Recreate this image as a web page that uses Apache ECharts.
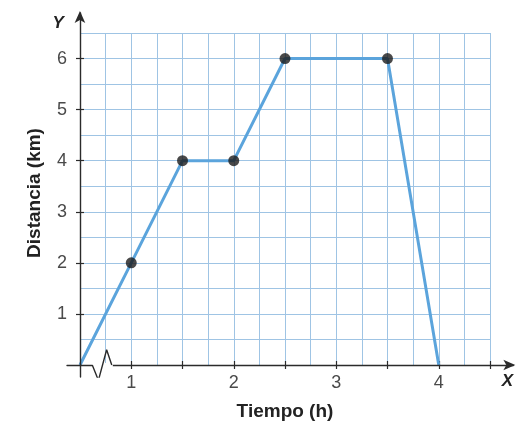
<!DOCTYPE html>
<html>
<head>
<meta charset="utf-8">
<script src="https://cdn.jsdelivr.net/npm/echarts@6/dist/echarts.min.js"></script>
<style>
  html, body { margin: 0; padding: 0; background: #fff; }
  #chart { width: 516px; height: 427px; }
</style>
</head>
<body>
<div id="chart"></div>
<script>
// Trayecto: tiempo (h) frente a distancia (km)
const tiempo    = [0.5, 1, 1.5, 2, 2.5, 3.5, 4];
const distancia = [0,   2, 4,   4, 6,   6,   0];
// puntos marcados con un círculo negro
const marcados  = [[1, 2], [1.5, 4], [2, 4], [2.5, 6], [3.5, 6]];

const xLabels = [1, 2, 3, 4];
const xTicks  = [1, 1.5, 2, 2.5, 3, 3.5, 4, 4.5];
const yLabels = [1, 2, 3, 4, 5, 6];

// símbolo de corte del eje X cerca del origen (en horas y km)
const corteBlanco = [[0.62, 0], [0.82, 0]];
const corte = [[0.62, 0], [0.68, -0.3], [0.76, 0.3], [0.81, 0]];

const AXIS = '#2b2b2b';
const GRID = '#9fc4e4';
const LINE = '#5ba4dc';
const LABEL = '#4a4a4a';
const FONT = '"Liberation Sans", Arial, sans-serif';

const serie = tiempo.map((t, i) => [t, distancia[i]]);

// ejes con flecha: rejilla auxiliar algo mayor, misma escala (103 px/h, 51 px/km)
const pxX = 103, pxY = 51;
const ax = { minX: 0.5 - 13 / pxX, maxX: 0.5 + 435 / pxX, minY: -12 / pxY, maxY: 352 / pxY };

const tickStyle = { color: AXIS, width: 1.2 };
const hidden = { axisLine: { show: false }, axisLabel: { show: false }, splitLine: { show: false } };

const chart = echarts.init(document.getElementById('chart'), null, { renderer: 'canvas' });
chart.setOption({
  animation: false,
  backgroundColor: '#fff',
  grid: [
    { left: 80, right: 26, top: 33, bottom: 62 },
    { left: 67, right: 1, top: 13, bottom: 50 }
  ],
  xAxis: [
    {
      gridIndex: 0, type: 'value', min: 0.5, max: 4.5, interval: 0.25,
      axisLine: { show: false },
      axisTick: { show: true, customValues: xTicks, length: 4, lineStyle: tickStyle },
      axisLabel: { customValues: xLabels, color: LABEL, fontSize: 18, fontFamily: FONT, margin: 9 },
      splitLine: { show: false },
      name: 'Tiempo (h)', nameLocation: 'middle', nameGap: 37,
      nameTextStyle: { color: '#222', fontSize: 19, fontWeight: 'bold', fontFamily: FONT }
    },
    Object.assign({
      gridIndex: 0, type: 'value', min: 0.5, max: 4.5, interval: 0.25, position: 'bottom',
      axisTick: { show: true, inside: true, customValues: xTicks, length: 4, lineStyle: tickStyle }
    }, hidden),
    {
      gridIndex: 1, type: 'value', min: ax.minX - 0.5, max: ax.maxX - 0.5, z: 5,
      axisLine: { show: true, onZero: true, symbol: ['none', 'arrow'], symbolSize: [8, 12], symbolOffset: [0, 2],
                  lineStyle: { color: AXIS, width: 1.4 } },
      axisTick: { show: false }, axisLabel: { show: false }, splitLine: { show: false },
      name: 'X', nameLocation: 'end', nameGap: -6,
      nameTextStyle: { color: '#222', fontSize: 17, fontWeight: 'bold', fontStyle: 'italic', fontFamily: FONT,
                       verticalAlign: 'top', align: 'center', padding: [8, 0, 0, 0] }
    },
    {
      // cuadrícula vertical cada 0,25 h
      gridIndex: 0, type: 'value', min: 0.5, max: 4.5, interval: 0.25, position: 'bottom', z: 0,
      axisLine: { show: false }, axisTick: { show: false }, axisLabel: { show: false },
      splitLine: { show: true, showMinLine: false, lineStyle: { color: GRID, width: 1 } }
    }
  ],
  yAxis: [
    {
      gridIndex: 0, type: 'value', min: 0, max: 6.5, interval: 0.5,
      axisLine: { show: false },
      axisTick: { show: true, customValues: yLabels, length: 4, lineStyle: tickStyle },
      axisLabel: { customValues: yLabels, color: LABEL, fontSize: 18, fontFamily: FONT, margin: 13 },
      splitLine: { show: false },
      name: 'Distancia (km)', nameLocation: 'middle', nameGap: 36, nameRotate: 90,
      nameTextStyle: { color: '#222', fontSize: 19, fontWeight: 'bold', fontFamily: FONT, padding: [0, 0, 0, 12] }
    },
    Object.assign({
      gridIndex: 0, type: 'value', min: 0, max: 6.5, interval: 0.5, position: 'left', offset: 0,
      axisTick: { show: true, inside: true, customValues: yLabels, length: 4, lineStyle: tickStyle }
    }, hidden),
    {
      gridIndex: 1, type: 'value', min: ax.minY, max: ax.maxY, z: 5,
      axisLine: { show: true, onZero: true, symbol: ['none', 'arrow'], symbolSize: [8, 12], symbolOffset: [0, 2],
                  lineStyle: { color: AXIS, width: 1.4 } },
      axisTick: { show: false }, axisLabel: { show: false }, splitLine: { show: false },
      name: 'Y', nameLocation: 'end', nameGap: -10,
      nameTextStyle: { color: '#222', fontSize: 17, fontWeight: 'bold', fontStyle: 'italic', fontFamily: FONT,
                       align: 'right', verticalAlign: 'middle', padding: [0, 16, 0, 0] }
    },
    {
      // cuadrícula horizontal cada 0,5 km
      gridIndex: 0, type: 'value', min: 0, max: 6.5, interval: 0.5, position: 'left', offset: 0, z: 0,
      axisLine: { show: false }, axisTick: { show: false }, axisLabel: { show: false },
      splitLine: { show: true, showMinLine: false, lineStyle: { color: GRID, width: 1 } }
    }
  ],
  series: [
    {
      type: 'line', xAxisIndex: 0, yAxisIndex: 0, data: serie,
      showSymbol: false, lineStyle: { color: LINE, width: 3 }, z: 3
    },
    {
      type: 'scatter', xAxisIndex: 0, yAxisIndex: 0, data: marcados,
      symbolSize: 11, itemStyle: { color: '#1c1c1c' }, z: 4
    },
    {
      type: 'line', xAxisIndex: 2, yAxisIndex: 2,
      data: corteBlanco.map(p => [p[0] - 0.5, p[1]]),
      showSymbol: false, lineStyle: { color: '#fff', width: 4 }, z: 6
    },
    {
      type: 'line', xAxisIndex: 2, yAxisIndex: 2,
      data: corte.map(p => [p[0] - 0.5, p[1]]),
      showSymbol: false, lineStyle: { color: AXIS, width: 1.4 }, z: 7
    }
  ]
});
</script>
</body>
</html>
